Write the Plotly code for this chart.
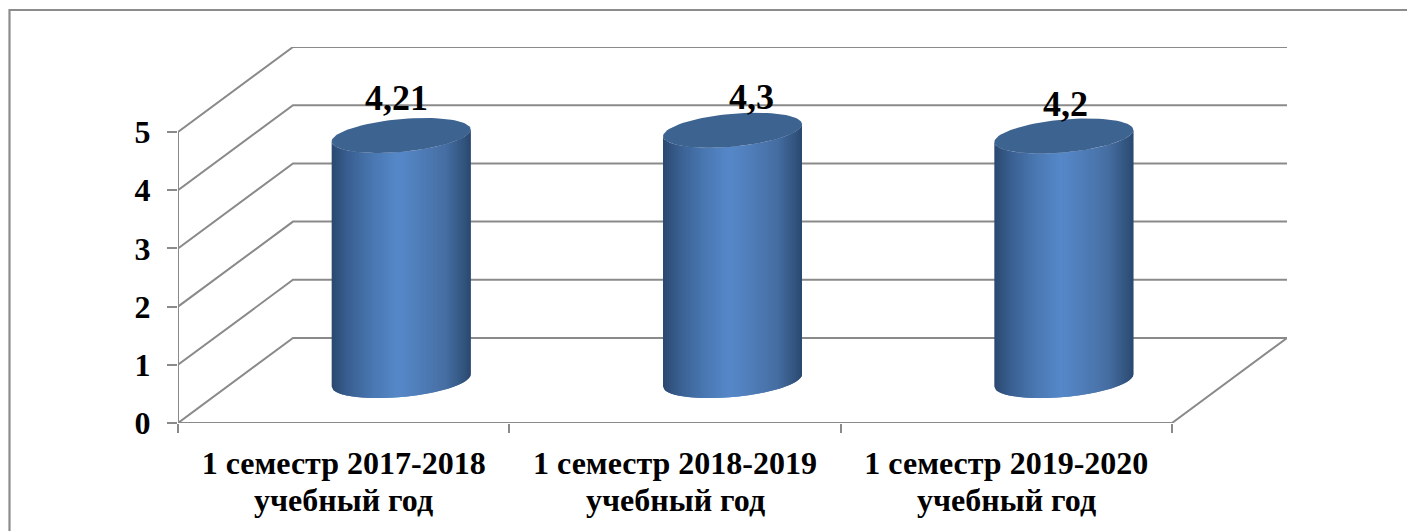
import math
import plotly.graph_objects as go

categories = ["1 семестр 2017-2018", "1 семестр 2018-2019", "1 семестр 2019-2020"]
second_line = ["учебный год", "учебный год", "учебный год"]
values = [4.21, 4.3, 4.2]
value_labels = ["4,21", "4,3", "4,2"]
y_ticks = [0, 1, 2, 3, 4, 5]

# pixel layout of the plot area
W, H = 1407, 531
L, R, T, B = 178, 1287, 47, 423
X_PER = (1172 - 178) / 3
Y_PER = (423 - 132) / 5
DX = (1287 - 1172) / X_PER
DY = (423 - 338) / Y_PER
X_MAX = 3 + DX
Y_MAX = (B - T) / Y_PER

GRID = "#8a8a8a"
FONT = "Liberation Serif"
LW = 2

# cylinder geometry, in axis units
HALF_W = 69.5 / X_PER
TILT = 6 / Y_PER
MINOR = 16.5 / Y_PER
STRIPS = 70
GRAD = [(0.0, (42, 72, 112)), (0.12, (58, 96, 146)), (0.3, (74, 120, 178)),
        (0.48, (86, 136, 201)), (0.62, (80, 126, 186)), (0.82, (70, 110, 162)),
        (0.95, (50, 84, 126)), (1.0, (42, 72, 112))]
TOP_COLOR = "#3d6390"


def grad(f):
    for (a, ca), (b, cb) in zip(GRAD, GRAD[1:]):
        if f <= b:
            k = (f - a) / (b - a)
            return "rgb(%d,%d,%d)" % tuple(round(p + (q - p) * k) for p, q in zip(ca, cb))
    return "rgb(42,72,112)"


def front_y(c):
    return TILT * c - MINOR * max(0.0, 1 - c * c) ** 0.5


fig = go.Figure()

# perspective gridlines
for v in y_ticks:
    fig.add_trace(go.Scatter(x=[0, DX, 3 + DX], y=[v, v + DY, v + DY], mode="lines",
                             line=dict(color=GRID, width=LW), hoverinfo="skip", showlegend=False))
# axes and floor edge
fig.add_trace(go.Scatter(x=[0, 0], y=[0, 5], mode="lines", line=dict(color=GRID, width=LW),
                         hoverinfo="skip", showlegend=False))
fig.add_trace(go.Scatter(x=[0, 3, 3 + DX], y=[0, 0, DY], mode="lines", line=dict(color=GRID, width=LW),
                         hoverinfo="skip", showlegend=False))

# cylinders
for i, val in enumerate(values):
    cx = i + 0.5 + DX / 2
    base = DY / 2
    for s in range(STRIPS):
        c0 = -1 + 2 * s / STRIPS
        # each strip overlaps the next one so no seams show
        c1 = min(1.0, -1 + 2 * (s + 2) / STRIPS)
        cm = [c0 + (c1 - c0) * j / 6 for j in range(7)]
        xs = [cx + HALF_W * c for c in cm]
        low = [base + front_y(c) for c in cm]
        up = [base + val + front_y(c) for c in cm]
        col = grad((s + 0.5) / STRIPS)
        fig.add_trace(go.Scatter(x=xs + xs[::-1], y=low + up[::-1], mode="lines", fill="toself",
                                 fillcolor=col, line=dict(color=col, width=0),
                                 hoverinfo="skip", showlegend=False))
    n = 90
    ex, ey = [], []
    for k in range(n + 1):
        t = 2 * math.pi * k / n
        ex.append(cx + HALF_W * math.cos(t))
        ey.append(base + val + TILT * math.cos(t) + MINOR * math.sin(t))
    fig.add_trace(go.Scatter(x=ex, y=ey, mode="lines", fill="toself", fillcolor=TOP_COLOR,
                             line=dict(color=TOP_COLOR, width=0), hoverinfo="skip", showlegend=False))

# value labels
LABEL_SHIFT = [(-5, 15), (18.5, 11), (2, 10)]
annotations = []
for i, (val, txt) in enumerate(zip(values, value_labels)):
    annotations.append(dict(x=i + 0.5 + DX / 2, y=val + DY / 2, text=txt, showarrow=False,
                            xshift=LABEL_SHIFT[i][0], yshift=LABEL_SHIFT[i][1], yanchor="bottom",
                            font=dict(family=FONT, size=36, color="black", weight=700)))
# second line of the category labels
for i, txt in enumerate(second_line):
    annotations.append(dict(x=i + 0.5, y=0, text=txt, showarrow=False, yanchor="middle",
                            yshift=-77, font=dict(family=FONT, size=32, color="black", weight=700)))

frame_l = (9.5 - L) / (R - L)
frame_r = (1420 - L) / (R - L)
fig.update_layout(
    width=W, height=H, autosize=False,
    margin=dict(l=L, r=W - R, t=T, b=H - B, pad=0),
    paper_bgcolor="white", plot_bgcolor="white", showlegend=False,
    annotations=annotations,
    shapes=[dict(type="rect", xref="paper", yref="paper", layer="below",
                 x0=frame_l, x1=frame_r, y0=-0.5, y1=(B - 10) / (B - T),
                 line=dict(color="#8c8c8c", width=2.2), fillcolor="rgba(0,0,0,0)")],
    xaxis=dict(range=[0, X_MAX], showgrid=False, zeroline=False, showline=False,
               tickmode="array", tickvals=[0.5, 1.5, 2.5], ticktext=categories, ticks="",
               tickfont=dict(family=FONT, size=32, color="black", weight=700), ticklabelstandoff=18,
               minor=dict(tickmode="array", tickvals=[0, 1, 2, 3], ticks="outside", ticklen=9,
                          tickcolor=GRID, tickwidth=LW),
               fixedrange=True),
    yaxis=dict(range=[0, Y_MAX], showgrid=False, zeroline=False, showline=False,
               tickmode="array", tickvals=y_ticks, ticktext=[str(v) for v in y_ticks],
               ticks="outside", ticklen=10, tickcolor=GRID, tickwidth=LW, ticklabelstandoff=10,
               tickfont=dict(family=FONT, size=32, color="black", weight=700), fixedrange=True),
)

fig.write_html("out.html", config={"displayModeBar": False},
               post_script="document.body.style.margin='0';document.body.style.overflow='hidden';")
